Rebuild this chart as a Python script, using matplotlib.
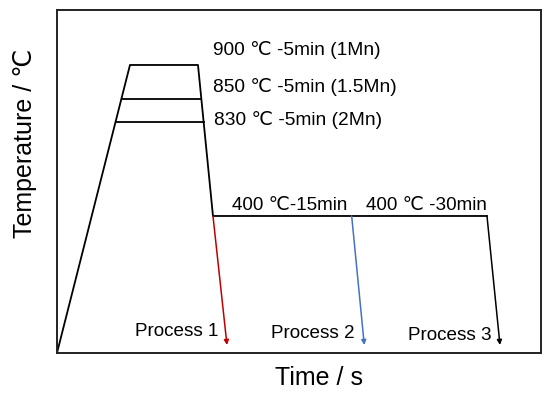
import matplotlib
matplotlib.use("Agg")
import matplotlib.pyplot as plt

plt.rcParams['font.family'] = ['Liberation Sans', 'DejaVu Sans']

# Schematic heat treatment profile (arbitrary time / temperature units)
main_t = [0, 73, 141, 156, 430]
main_T = [0, 288, 288, 137, 137]

# intercritical soak lines for 1.5Mn and 2Mn
soak_850_t = [64.7, 144.4]
soak_850_T = [254, 254]
soak_830_t = [59, 146.7]
soak_830_T = [231, 231]

# quench arrows: start (t, T) and end (t, T)
arrow_start_t = [156, 294.7, 430]
arrow_end_t = [170, 307.3, 443]
arrow_start_T = [137, 137, 137]
arrow_end_T = [8, 8, 8]
arrow_colors = ['#C00000', '#4472C4', 'black']

process_labels = ['Process 1', 'Process 2', 'Process 3']
process_label_t = [161, 298, 435]
process_label_T = [21, 19, 17]

soak_labels = ['900 \u2103 -5min (1Mn)', '850 \u2103 -5min (1.5Mn)', '830 \u2103 -5min (2Mn)']
soak_label_t = [156, 156, 157]
soak_label_T = [303, 266, 233]

hold_labels = ['400 \u2103-15min', '400 \u2103 -30min']
hold_label_t = [175, 309]
hold_label_T = [147, 147]

fig = plt.figure(figsize=(5.5, 3.99), dpi=100)
ax = fig.add_axes([0.1036, 0.1153, 0.88, 0.8597])

ax.plot(main_t, main_T, color='black', lw=1.3)
ax.plot(soak_850_t, soak_850_T, color='black', lw=1.3)
ax.plot(soak_830_t, soak_830_T, color='black', lw=1.3)

for t0, T0, t1, T1, c in zip(arrow_start_t, arrow_start_T, arrow_end_t, arrow_end_T, arrow_colors):
    ax.annotate('', xy=(t1, T1), xytext=(t0, T0),
                arrowprops=dict(arrowstyle='-|>', color=c, lw=1.1,
                                mutation_scale=7, shrinkA=0, shrinkB=0))

for s, t, T in zip(soak_labels, soak_label_t, soak_label_T):
    ax.text(t, T, s, fontsize=13.8, va='center', ha='left')
for s, t, T in zip(hold_labels, hold_label_t, hold_label_T):
    ax.text(t, T, s, fontsize=13.6, va='center', ha='left')
for s, t, T in zip(process_labels, process_label_t, process_label_T):
    ax.text(t, T, s, fontsize=13.6, va='center', ha='right')

ax.set_xlim(0, 484)
ax.set_ylim(0, 343)
ax.set_xticks([])
ax.set_yticks([])
for sp in ax.spines.values():
    sp.set_linewidth(1.4)
    sp.set_color('#222222')

fig.text(0.58, 0.053, 'Time / s', fontsize=18, ha='center', va='center')
fig.text(0.045, 0.64, 'Temperature / \u2103', fontsize=18, ha='center',
         va='center', rotation=90)

fig.savefig('out.png', dpi=100)
